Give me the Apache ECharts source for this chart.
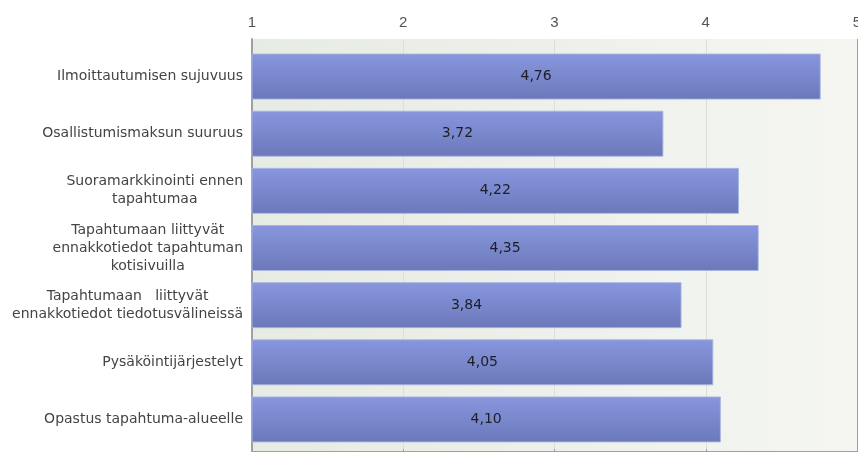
<!DOCTYPE html>
<html>
<head>
<meta charset="utf-8">
<script src="https://cdn.jsdelivr.net/npm/echarts@6/dist/echarts.min.js"></script>
<style>
  html, body { margin: 0; padding: 0; background: #ffffff; }
  #chart { width: 858px; height: 452px; }
</style>
</head>
<body>
<div id="chart"></div>
<script>
// Survey items (top to bottom) and their mean scores on a 1–5 scale
const categories = [
  'Ilmoittautumisen sujuvuus',
  'Osallistumismaksun suuruus',
  'Suoramarkkinointi ennen\ntapahtumaa',
  'Tapahtumaan liittyvät\nennakkotiedot tapahtuman\nkotisivuilla',
  'Tapahtumaan   liittyvät\nennakkotiedot tiedotusvälineissä',
  'Pysäköintijärjestelyt',
  'Opastus tapahtuma-alueelle'
];
const scores = [4.76, 3.72, 4.22, 4.35, 3.84, 4.05, 4.10];
const scaleMin = 1;
const scaleMax = 5;

const LABEL_FONT = 'DejaVu Sans';
const TICK_FONT = 'Liberation Sans';
const chart = echarts.init(document.getElementById('chart'), null, { renderer: 'canvas' });

chart.setOption({
  animation: false,
  textStyle: { fontFamily: LABEL_FONT },
  grid: [
    // frame grid: background, top scale and vertical guide lines
    {
      left: 252, right: 1, top: 39, bottom: 0,
      containLabel: false, outerBoundsMode: 'none',
      show: true, borderWidth: 0,
      backgroundColor: {
        type: 'linear', x: 0, y: 0, x2: 1, y2: 0,
        colorStops: [
          { offset: 0, color: '#e6ebe3' },
          { offset: 1, color: '#f5f6f2' }
        ]
      }
    },
    // plotting grid for the bars
    { left: 252, right: 1, top: 48, bottom: 4, containLabel: false, outerBoundsMode: 'none' }
  ],
  xAxis: [
    {
      gridIndex: 0, type: 'value', position: 'top',
      min: scaleMin, max: scaleMax, interval: 1,
      axisLine: { show: true, lineStyle: { color: '#a0a0a0', width: 2 } },
      axisTick: { show: true, length: 3, lineStyle: { color: '#a0a0a0' } },
      axisLabel: {
        color: '#555555', fontSize: 15, margin: 9, fontFamily: TICK_FONT,
        hideOverlap: false
      },
      splitLine: {
        show: true,
        lineStyle: { color: ['#a0a0a0', '#dcdfd9', '#dcdfd9', '#dcdfd9', '#a0a0a0'], width: 1 }
      }
    },
    {
      gridIndex: 1, type: 'value',
      min: scaleMin, max: scaleMax, interval: 1,
      show: false
    }
  ],
  yAxis: [
    {
      gridIndex: 0, type: 'value',
      axisLine: { show: true, lineStyle: { color: '#a0a0a0', width: 2 } },
      axisTick: { show: false }, axisLabel: { show: false }, splitLine: { show: false }
    },
    {
      gridIndex: 1, type: 'category', data: categories, inverse: true,
      axisLine: { show: false }, axisTick: { show: false },
      axisLabel: {
        margin: 9, align: 'right', interval: 0,
        // each line is centred inside the right-aligned label block
        formatter: v => v.split('\n').map(line => '{c|' + line + '}').join('\n'),
        rich: {
          c: {
            align: 'center', color: '#444444', fontSize: 14, lineHeight: 18,
            fontFamily: LABEL_FONT
          }
        }
      }
    }
  ],
  series: [{
    type: 'bar',
    xAxisIndex: 1, yAxisIndex: 1,
    data: scores,
    barWidth: 46,
    itemStyle: {
      color: {
        type: 'linear', x: 0, y: 0, x2: 0, y2: 1,
        colorStops: [
          { offset: 0, color: '#8896de' },
          { offset: 1, color: '#6b79ba' }
        ]
      },
      borderColor: 'rgba(170,180,225,0.9)',
      borderWidth: 1
    },
    label: {
      show: true, position: 'inside',
      color: '#1e1e28', fontSize: 14, fontFamily: LABEL_FONT,
      formatter: p => p.value.toFixed(2).replace('.', ',')
    }
  }]
});
</script>
</body>
</html>
